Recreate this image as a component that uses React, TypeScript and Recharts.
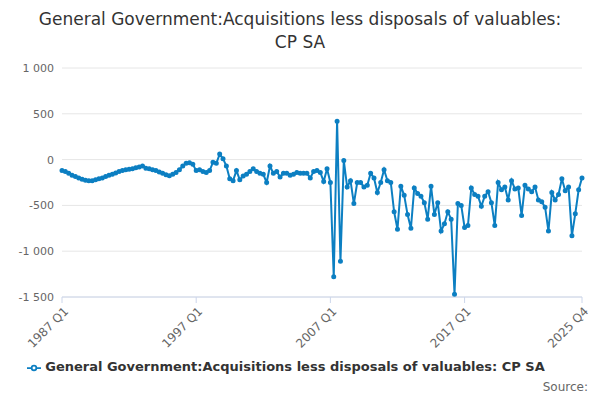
import { CartesianGrid, Legend, Line, LineChart, XAxis, YAxis } from "recharts";

const values = [
  -120, -130, -150, -170, -185, -200, -215, -225, -230, -230, -220, -210,
  -200, -185, -170, -160, -145, -130, -120, -110, -105, -100, -90, -80,
  -70, -95, -100, -110, -120, -135, -150, -165, -175, -160, -140, -110,
  -70, -40, -35, -50, -120, -110, -130, -140, -120, -30, -40, 60,
  10, -70, -210, -230, -120, -220, -180, -160, -130, -100, -130, -150,
  -160, -250, -70, -150, -130, -190, -150, -150, -170, -160, -140, -150,
  -150, -150, -200, -130, -120, -140, -240, -100, -250, -1280, 420, -1110,
  -10, -300, -230, -480, -250, -250, -300, -280, -150, -200, -360, -250,
  -110, -230, -250, -570, -760, -290, -390, -600, -750, -310, -370, -400,
  -470, -650, -290, -600, -470, -780, -700, -570, -650, -1470, -480, -500,
  -740, -720, -310, -380, -400, -510, -400, -350, -470, -720, -250, -330,
  -300, -440, -230, -320, -310, -610, -280, -320, -350, -300, -440, -460,
  -520, -780, -360, -440, -380, -210, -340, -300, -830, -590, -330, -200,
];
const quarters = values.map((_, i) => `${1987 + Math.floor(i / 4)} Q${(i % 4) + 1}`);
const xTicks = ["1987 Q1", "1997 Q1", "2007 Q1", "2017 Q1", "2025 Q4"];
const yTicks = [-1500, -1000, -500, 0, 500, 1000];
const data = quarters.map((q, i) => ({ q, v: values[i] }));

const fmt = (v: number) =>
  (v < 0 ? "-" : "") + Math.abs(v).toLocaleString("en-US").replace(",", " ");

const RotTick = (p: any) => (
  <text
    x={p.x}
    y={p.y}
    transform={`rotate(-45 ${p.x} ${p.y})`}
    textAnchor="end"
    dy={10}
    fontSize={12}
    fill="#666"
  >
    {p.payload.value}
  </text>
);

export default function App() {
  return (
    <div style={{ width: 600, height: 400, position: "relative", margin: -8, fontFamily: "DejaVu Sans, sans-serif" }}>
      <div style={{ textAlign: "center", fontSize: 17, color: "#333", paddingTop: 8, lineHeight: "23px" }}>
        General Government:Acquisitions less disposals of valuables:
        <br />
        CP SA
      </div>
      <LineChart
        width={600}
        height={336}
        data={data}
        margin={{ top: 10, right: 18, left: 0, bottom: 5 }}
        style={{ position: "absolute", top: 58, left: 0 }}
      >
        <CartesianGrid stroke="#e6e6e6" vertical={false} />
        <XAxis
          dataKey="q"
          ticks={xTicks}
          interval={0}
          tick={<RotTick />}
          height={62}
          stroke="#ccd6eb"
          tickLine={{ stroke: "#ccd6eb" }}
        />
        <YAxis
          domain={[-1500, 1000]}
          ticks={yTicks}
          tickFormatter={fmt}
          axisLine={false}
          tickLine={false}
          width={62}
          tick={{ fontSize: 11, fill: "#666" }}
        />
        <Legend
          verticalAlign="bottom"
          height={30}
          wrapperStyle={{ fontSize: 13, fontWeight: "bold", color: "#333" }}
          formatter={(v) => <span style={{ color: "#333" }}>{v}</span>}
        />
        <Line
          dataKey="v"
          name="General Government:Acquisitions less disposals of valuables: CP SA"
          stroke="#0c7fc2"
          strokeWidth={2}
          dot={{ r: 1.5, fill: "#0c7fc2", stroke: "#0c7fc2" }}
          isAnimationActive={false}
        />
      </LineChart>
      <div style={{ position: "absolute", right: 12, bottom: 6, fontSize: 12, color: "#666" }}>Source:</div>
    </div>
  );
}
